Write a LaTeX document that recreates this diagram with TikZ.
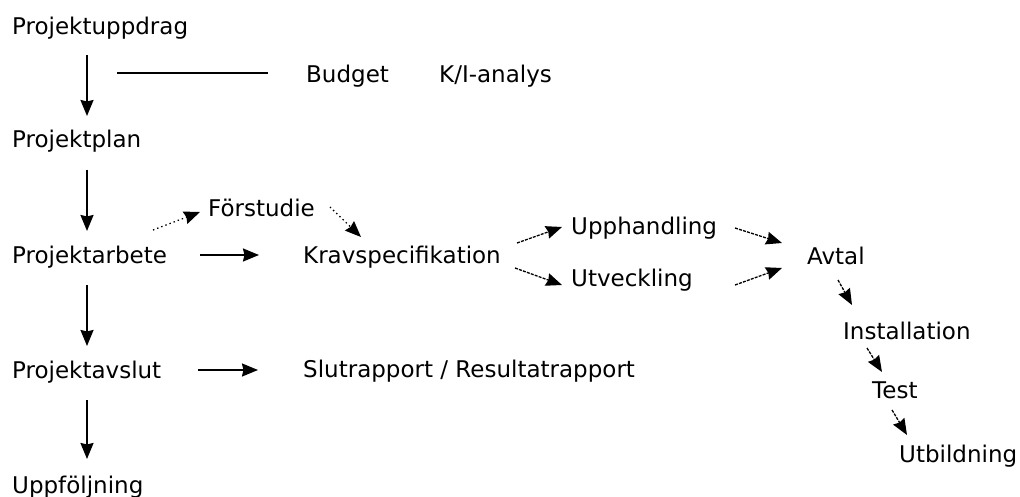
\documentclass[tikz,border=0pt]{standalone}
\usepackage{fontspec}
\setmainfont{DejaVu Sans}
\usetikzlibrary{arrows.meta,calc}
\begin{document}
\begin{tikzpicture}[x=1pt,y=-1pt,
  lbl/.style={anchor=base west,inner sep=0pt,font=\fontsize{23}{27}\selectfont},
  arr/.style={-{Stealth[length=16pt,width=13pt,inset=1.5pt]},line width=1.8pt},
  darr/.style={arr,line width=1.3pt,dash pattern=on 3pt off 1.2pt},
  dotarr/.style={arr,line width=1.3pt,dash pattern=on 1.4pt off 3pt}]
\useasboundingbox[fill=white] (0,0) rectangle (1020,497);
\node[lbl] (pu)  at (12,35)  {Projektuppdrag};
\node[lbl] (bu)  at (306,83) {Budget};
\node[lbl] (ki)  at (439,83) {K/I-analys};
\node[lbl] (pp)  at (12,148) {Projektplan};
\node[lbl] (fs)  at (208,217) {Förstudie};
\node[lbl] (pa)  at (12,263) {Projektarbete};
\node[lbl] (ks)  at (303,263) {Kravspecifikation};
\node[lbl] (uh)  at (571,235) {Upphandling};
\node[lbl] (uv)  at (571,286) {Utveckling};
\node[lbl] (av)  at (807,265) {Avtal};
\node[lbl] (in)  at (843,339) {Installation};
\node[lbl] (te)  at (872,398) {Test};
\node[lbl] (ub)  at (899,462) {Utbildning};
\node[lbl] (pav) at (12,378) {Projektavslut};
\node[lbl] (sr)  at (303,377) {Slutrapport / Resultatrapport};
\node[lbl] (uf)  at (12,493) {Uppföljning};
% vertical chain
\draw[arr] ($(pu.base west)+(75,20)$) -- ($(pp.base west)+(75,-32)$);
\draw[arr] ($(pp.base west)+(75,22)$) -- ($(pa.base west)+(75,-32)$);
\draw[arr] ($(pa.base west)+(75,22)$) -- ($(pav.base west)+(75,-32)$);
\draw[arr] ($(pav.base west)+(75,22)$) -- ($(uf.base west)+(75,-34)$);
% budget line
\draw[line width=1.8pt] ($(bu.base west)+(-189,-10)$) -- ($(bu.base west)+(-38,-10)$);
% horizontal arrows
\draw[arr] ($(pa.base west)+(188,-8)$) -- ($(ks.base west)+(-44,-8)$);
\draw[arr] ($(pav.base west)+(186,-8)$) -- ($(sr.base west)+(-45,-7)$);
% dotted via Förstudie
\draw[dotarr] ($(pa.base west)+(141,-33)$) -- ($(fs.base west)+(-8,-5)$);
\draw[dotarr] ($(fs.base west)+(122,-10)$) -- ($(ks.base west)+(58,-26)$);
% dashed arrows
\draw[darr] ($(ks.base west)+(214,-20)$) -- ($(uh.base west)+(-9,-8)$);
\draw[darr] ($(ks.base west)+(212,5)$) -- ($(uv.base west)+(-9,-1)$);
\draw[darr] ($(uh.base west)+(164,-7)$) -- ($(av.base west)+(-25,-22)$);
\draw[darr] ($(uv.base west)+(164,-1)$) -- ($(av.base west)+(-25,3)$);
\draw[darr] ($(av.base west)+(31,15)$) -- ($(in.base west)+(9,-34)$);
\draw[darr] ($(in.base west)+(24,9)$) -- ($(te.base west)+(10,-26)$);
\draw[darr] ($(te.base west)+(20,12)$) -- ($(ub.base west)+(8,-27)$);
\end{tikzpicture}
\end{document}
